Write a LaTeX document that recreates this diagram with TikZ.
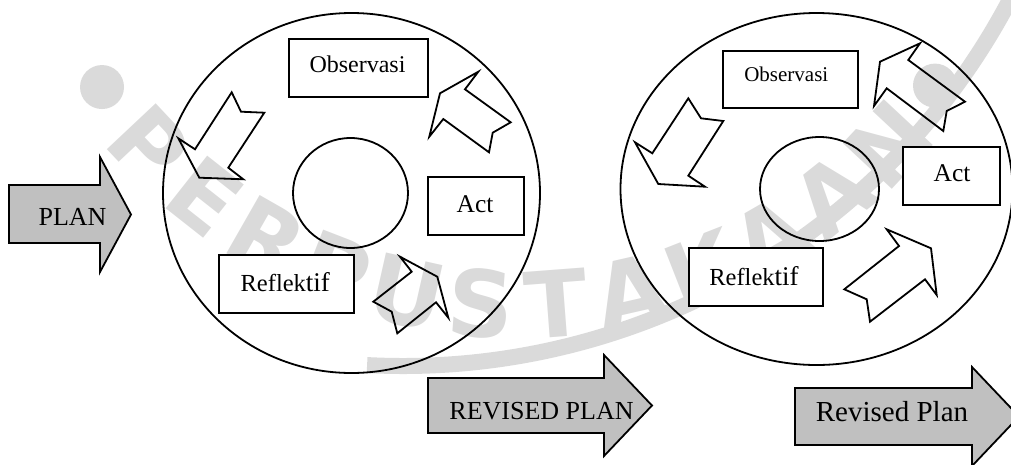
\documentclass[tikz,border=0pt]{standalone}
\usepackage{fontspec}
\setmainfont{Liberation Serif}
\newfontfamily\markfont{DejaVu Sans Bold}
\usetikzlibrary{shapes.geometric}
\definecolor{arrowgray}{RGB}{192,192,192}
\definecolor{markgray}{RGB}{218,218,218}
\newcommand\txtsize[1]{\fontsize{#1}{#1}\selectfont}
\begin{document}
\begin{tikzpicture}[x=1pt,y=-1pt,
  outline/.style={draw=black, line width=1.8pt, line join=miter},
  ring/.style={outline, ellipse, inner sep=0pt},
  stepbox/.style={outline, rectangle, inner sep=0pt, fill=white},
  turnarrow/.style={outline},
  leadarrow/.style={outline, fill=arrowgray},
  lbl/.style={anchor=base, inner sep=0pt},
  markletter/.style={inner sep=0pt, text=markgray, font=\markfont\txtsize{92}},
  markdot/.style={circle, fill=markgray, inner sep=0pt, minimum size=44pt},
]
\useasboundingbox (0,0) rectangle (1011,464);
\clip (0,0) rectangle (1011,464);

% ---------- library stamp in the background ----------
\draw[markgray, line width=16pt] (403,-320) ++(25:686) arc[start angle=25, end angle=93, radius=686];
\node[markdot] (dotl) at ({518+506*cos(145.3)},{-201+506*sin(145.3)}) {};
\node[markdot] (dotr) at ({518+506*cos(34.5)},{-201+506*sin(34.5)}) {};
\foreach \ch [count=\i] in {P,E,R,P,U,S,T,A,K,A,A,N} {
  \pgfmathsetmacro\ang{145.3-8.523*\i}
  \node[markletter, rotate={90-\ang}] (mark\i) at ({518+506*cos(\ang)},{-201+506*sin(\ang)}) {\ch};
}

% ---------- first cycle ----------
\node[ring, minimum width=377pt, minimum height=360pt] (cyc1) at (351.5,193) {};
\node[ring, minimum width=115pt, minimum height=110pt] (hub1) at (350.5,193) {};
\node[stepbox, minimum width=139pt, minimum height=58pt] (obs1) at (358.5,68) {};
\node[stepbox, minimum width=96pt, minimum height=58pt] (act1) at (476,206) {};
\node[stepbox, minimum width=135pt, minimum height=58pt] (ref1) at (286.5,284) {};
\node[lbl, font=\txtsize{24}] (tobs1) at (357.5,72) {Observasi};
\node[lbl, font=\txtsize{25.5}] (tact1) at (475,212) {Act};
\node[lbl, font=\txtsize{24.5}] (tref1) at (285.3,291.5) {Reflek{\txtsize{27}tif}};

% turning arrows: tip, wing, shaft, tail, notch, tail, shaft, wing
\draw[turnarrow] (199.3,177.7) -- (178.3,138.3) -- (195,149.3) -- (231.7,92.3)
  -- (241,111.7) -- (264.3,112.7) -- (228.3,167.7) -- (243.3,179.3) -- cycle;
\draw[turnarrow] (440,93.3) -- (478.3,71.7) -- (465,89.3) -- (510.7,122.3)
  -- (492.7,132.7) -- (489,152.3) -- (443.3,119) -- (429.3,136.7) -- cycle;
\draw[turnarrow] (437.3,276.7) -- (400,256.7) -- (411.7,271.7) -- (373.3,301.7)
  -- (391.7,311.7) -- (397.3,333.3) -- (436,302.3) -- (448.3,317.7) -- cycle;

% ---------- second cycle ----------
\node[ring, minimum width=392pt, minimum height=352pt] (cyc2) at (816.5,189) {};
\node[ring, minimum width=119pt, minimum height=104pt] (hub2) at (819.5,189) {};
\node[stepbox, minimum width=135pt, minimum height=57pt] (obs2) at (790.5,79.5) {};
\node[stepbox, minimum width=97pt, minimum height=58pt] (act2) at (951.5,176) {};
\node[stepbox, minimum width=134pt, minimum height=58pt] (ref2) at (756,277) {};
\node[lbl, font=\txtsize{21}] (tobs2) at (786.3,81) {Observasi};
\node[lbl, font=\txtsize{25.5}] (tact2) at (952,181.7) {Act};
\node[lbl, font=\txtsize{24.5}] (tref2) at (754,285) {Reflek{\txtsize{27}tif}};

\draw[turnarrow] (658.3,184) -- (635,142.3) -- (652.3,153.3) -- (688.3,98.3)
  -- (701,118.3) -- (723.3,121) -- (688.3,175.7) -- (705,186.7) -- cycle;
\draw[turnarrow] (880,61.7) -- (920,43.3) -- (908.3,60) -- (965,101.7)
  -- (946.7,111) -- (943.3,131) -- (886.7,88.3) -- (874,106) -- cycle;
\draw[turnarrow] (931,248.3) -- (886.7,229.3) -- (899,246) -- (844.3,289.3)
  -- (866.7,299.3) -- (870,321.7) -- (925,279.3) -- (936.7,295) -- cycle;

% ---------- plan arrows ----------
\draw[leadarrow] (9,185) -- (100,185) -- (100,157) -- (131,214.5) -- (100,272)
  -- (100,243) -- (9,243) -- cycle;
\node[lbl, font=\txtsize{26}] (tplan) at (72.5,225) {PLAN};

\draw[leadarrow] (428,378) -- (604,378) -- (604,355) -- (652,405.5) -- (604,456)
  -- (604,433) -- (428,433) -- cycle;
\node[lbl, font=\txtsize{26}] (trev1) at (541.5,419) {REVISED PLAN};

\draw[leadarrow] (795,388) -- (972,388) -- (972,367) -- (1019,416.5) -- (972,466)
  -- (972,445) -- (795,445) -- cycle;
\node[lbl, font=\txtsize{29}] (trev2) at (892,421) {Revised Plan};
\end{tikzpicture}
\end{document}
